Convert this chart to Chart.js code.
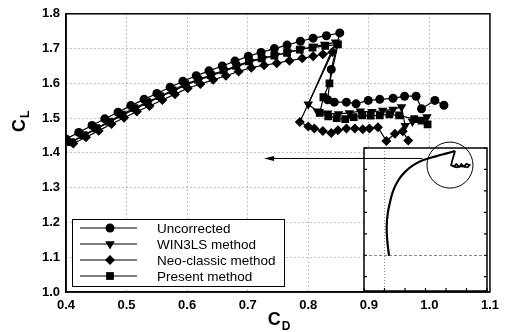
<!DOCTYPE html>
<html>
<head>
<meta charset="utf-8">
<script src="https://cdn.jsdelivr.net/npm/chart.js@4.4.1/dist/chart.umd.min.js"></script>
<style>
  html, body { margin: 0; padding: 0; background: #fff; }
  #wrap { position: relative; width: 505px; height: 332px; }
  #mainChart { position: absolute; left: 0; top: 0; }
  #insetChart { position: absolute; left: 356px; top: 136px; }
</style>
</head>
<body>
<div id="wrap">
  <canvas id="mainChart" width="505" height="332"></canvas>
  <canvas id="insetChart" width="140" height="160"></canvas>
</div>
<script>
// Values (CD, CL)
const uncorrectedCd = [0.400, 0.421, 0.443, 0.464, 0.486, 0.507, 0.529, 0.550, 0.572, 0.593, 0.615,
  0.636, 0.658, 0.679, 0.701, 0.722, 0.744, 0.765, 0.787, 0.808, 0.830, 0.852,
  0.838, 0.832, 0.843, 0.863, 0.879, 0.899, 0.918, 0.940, 0.959, 0.978, 0.987, 1.009, 1.024];
const uncorrectedCl = [1.440, 1.459, 1.479, 1.498, 1.517, 1.536, 1.554, 1.571, 1.589, 1.606, 1.622,
  1.636, 1.650, 1.664, 1.678, 1.689, 1.700, 1.710, 1.721, 1.730, 1.737, 1.745,
  1.640, 1.553, 1.546, 1.546, 1.541, 1.551, 1.554, 1.557, 1.563, 1.563, 1.527, 1.551, 1.537];

const win3lsCd = [0.410, 0.431, 0.452, 0.473, 0.494, 0.515, 0.536, 0.557, 0.578, 0.599, 0.620,
  0.641, 0.662, 0.683, 0.704, 0.725, 0.746, 0.767, 0.788, 0.809, 0.827, 0.845,
  0.800, 0.815, 0.832, 0.850, 0.868, 0.886, 0.905, 0.923, 0.940, 0.954, 0.960, 0.972, 0.996];
const win3lsCl = [1.432, 1.451, 1.471, 1.490, 1.509, 1.527, 1.545, 1.562, 1.579, 1.596, 1.610,
  1.623, 1.636, 1.649, 1.662, 1.671, 1.680, 1.689, 1.698, 1.706, 1.712, 1.718,
  1.540, 1.520, 1.514, 1.512, 1.515, 1.520, 1.518, 1.522, 1.525, 1.532, 1.478, 1.490, 1.503];

const neoCd = [0.412, 0.433, 0.454, 0.475, 0.496, 0.517, 0.538, 0.559, 0.580, 0.601, 0.622,
  0.643, 0.664, 0.685, 0.706, 0.727, 0.748, 0.769, 0.790, 0.808, 0.824, 0.840,
  0.786, 0.800, 0.810, 0.824, 0.838, 0.849, 0.863, 0.877, 0.890, 0.901, 0.915, 0.929, 0.943, 0.956, 0.965];
const neoCl = [1.427, 1.445, 1.464, 1.483, 1.501, 1.519, 1.535, 1.552, 1.569, 1.586, 1.598,
  1.610, 1.622, 1.634, 1.645, 1.652, 1.658, 1.665, 1.672, 1.678, 1.684, 1.690,
  1.489, 1.476, 1.470, 1.463, 1.457, 1.465, 1.470, 1.470, 1.468, 1.470, 1.474, 1.434, 1.455, 1.462, 1.436];

const presentCd = [0.408, 0.429, 0.450, 0.471, 0.492, 0.513, 0.534, 0.555, 0.576, 0.597, 0.618,
  0.639, 0.660, 0.681, 0.702, 0.723, 0.744, 0.765, 0.786, 0.807, 0.828, 0.849,
  0.835, 0.825, 0.819, 0.833, 0.847, 0.861, 0.875, 0.889, 0.903, 0.918, 0.934, 0.950, 0.975, 0.987, 0.997];
const presentCl = [1.431, 1.451, 1.471, 1.490, 1.510, 1.529, 1.546, 1.563, 1.580, 1.598, 1.611,
  1.624, 1.637, 1.650, 1.663, 1.672, 1.680, 1.688, 1.697, 1.703, 1.708, 1.712,
  1.600, 1.560, 1.515, 1.505, 1.500, 1.497, 1.503, 1.508, 1.507, 1.508, 1.511, 1.508, 1.497, 1.493, 1.482];

// inset: whole polar, own axes
const insetCurveCd = [0.244, 0.227, 0.221, 0.231, 0.254, 0.286, 0.335, 0.400, 0.481, 0.579, 0.709, 0.807, 0.888];
const insetCurveCl = [0.293, 0.504, 0.692, 0.880, 1.044, 1.208, 1.349, 1.466, 1.561, 1.631, 1.687, 1.725, 1.758];
const insetTailCd = [0.888, 0.860, 0.850, 0.880, 0.900, 0.930, 0.950, 0.975, 1.000, 1.030, 1.010, 0.960, 0.900, 0.865];
const insetTailCl = [1.758, 1.620, 1.560, 1.540, 1.575, 1.535, 1.575, 1.540, 1.580, 1.560, 1.530, 1.545, 1.530, 1.555];
const circleCd = [0.839];
const circleCl = [1.561];

const ARROW_CL = 1.384;
const ARROW_FROM_CD = 1.0;
const ARROW_TO_CD = 0.727;
const ARROW_INSET_END_CD = 0.57;

const FONT = "'Liberation Sans', Arial, Helvetica, sans-serif";

function toPoints(xs, ys) {
  return xs.map((x, i) => ({ x: x, y: ys[i] }));
}

function makeSeries(label, xs, ys, style, radius, rotation) {
  return {
    label: label,
    data: toPoints(xs, ys),
    showLine: true,
    borderColor: "#000",
    borderWidth: 1.2,
    pointStyle: style,
    pointRadius: radius,
    pointRotation: rotation,
    pointBackgroundColor: "#000",
    pointBorderColor: "#000",
    pointBorderWidth: 0
  };
}

// Frame, axis titles, legend box and arrow
const mainDecor = {
  id: "mainDecor",
  afterDraw(chart) {
    const ctx = chart.ctx;
    const a = chart.chartArea;
    ctx.save();
    ctx.strokeStyle = "#000";
    ctx.lineWidth = 1.5;
    ctx.strokeRect(a.left, a.top, a.right - a.left, a.bottom - a.top);

    // arrow
    const ay = chart.scales.y.getPixelForValue(ARROW_CL);
    const ax1 = chart.scales.x.getPixelForValue(ARROW_FROM_CD);
    const ax0 = chart.scales.x.getPixelForValue(ARROW_TO_CD);
    ctx.lineWidth = 1;
    ctx.beginPath();
    ctx.moveTo(ax1, ay);
    ctx.lineTo(ax0 + 6, ay);
    ctx.stroke();
    ctx.fillStyle = "#000";
    ctx.beginPath();
    ctx.moveTo(ax0, ay);
    ctx.lineTo(ax0 + 10, ay - 2.5);
    ctx.lineTo(ax0 + 10, ay + 2.5);
    ctx.closePath();
    ctx.fill();

    // axis titles
    ctx.fillStyle = "#000";
    ctx.textBaseline = "alphabetic";
    ctx.font = "bold 18px " + FONT;
    const wC = ctx.measureText("C").width;
    ctx.font = "bold 12px " + FONT;
    const wD = ctx.measureText("D").width;
    const cx = (a.left + a.right) / 2 + 1;
    const left = cx - (wC + wD + 1) / 2;
    ctx.font = "bold 18px " + FONT;
    ctx.fillText("C", left, 325);
    ctx.font = "bold 12px " + FONT;
    ctx.fillText("D", left + wC + 1, 330);

    ctx.save();
    ctx.translate(25, 132);
    ctx.rotate(-Math.PI / 2);
    ctx.font = "bold 18px " + FONT;
    ctx.fillText("C", 0, 0);
    ctx.font = "bold 12px " + FONT;
    ctx.fillText("L", wC + 1, 4);
    ctx.restore();

    // legend
    const box = { left: 72, top: 219, right: 284, bottom: 286 };
    ctx.fillStyle = "#fff";
    ctx.fillRect(box.left, box.top, box.right - box.left, box.bottom - box.top);
    ctx.strokeStyle = "#000";
    ctx.lineWidth = 1;
    ctx.strokeRect(box.left + 0.5, box.top + 0.5, box.right - box.left, box.bottom - box.top);
    ctx.font = "13.5px " + FONT;
    ctx.textBaseline = "middle";
    chart.data.datasets.forEach((ds, i) => {
      const y = box.top + 9 + i * 16;
      ctx.strokeStyle = "#000";
      ctx.beginPath();
      ctx.moveTo(box.left + 8, y);
      ctx.lineTo(box.left + 65, y);
      ctx.stroke();
      ctx.fillStyle = "#000";
      Chart.helpers.drawPoint(ctx, {
        pointStyle: ds.pointStyle,
        rotation: ds.pointRotation,
        radius: ds.pointRadius,
        borderWidth: 0
      }, box.left + 38, y);
      ctx.fillText(ds.label, box.left + 85, y + 1);
    });
    ctx.restore();
  }
};

const mainChart = new Chart(document.getElementById("mainChart"), {
  type: "scatter",
  data: {
    datasets: [
      makeSeries("Uncorrected", uncorrectedCd, uncorrectedCl, "circle", 4.5, 0),
      makeSeries("WIN3LS method", win3lsCd, win3lsCl, "triangle", 5.5, 180),
      makeSeries("Neo-classic method", neoCd, neoCl, "rectRot", 5, 0),
      makeSeries("Present method", presentCd, presentCl, "rect", 5.5, 0)
    ]
  },
  options: {
    responsive: false,
    animation: false,
    layout: { autoPadding: false, padding: { left: 0, top: 13, right: 15, bottom: 0 } },
    plugins: { legend: { display: false }, tooltip: { enabled: false } },
    scales: {
      x: {
        type: "linear",
        min: 0.4,
        max: 1.1,
        ticks: {
          stepSize: 0.1,
          maxRotation: 0,
          padding: 6,
          color: "#000",
          font: { family: FONT, size: 13, weight: "bold" },
          callback: v => v.toFixed(1)
        },
        grid: { color: "#8a8a8a", drawTicks: false, lineWidth: 1 },
        border: { display: true, color: "#000", width: 1.5, dash: [1, 3] },
        afterFit: s => { s.height = 40; }
      },
      y: {
        type: "linear",
        min: 1.0,
        max: 1.8,
        ticks: {
          stepSize: 0.1,
          padding: 6,
          color: "#000",
          font: { family: FONT, size: 13, weight: "bold" },
          callback: v => v.toFixed(1)
        },
        grid: { color: "#8a8a8a", drawTicks: false, lineWidth: 1 },
        border: { display: true, color: "#000", width: 1.5, dash: [1, 3] },
        afterFit: s => { s.width = 66; }
      }
    }
  },
  plugins: [mainDecor]
});

const INSET_TOP = 136;

const insetDecor = {
  id: "insetDecor",
  beforeDraw(chart) {
    const a = chart.chartArea;
    chart.ctx.save();
    chart.ctx.fillStyle = "#fff";
    chart.ctx.fillRect(a.left, a.top, a.right - a.left, a.bottom - a.top);
    chart.ctx.restore();
  },
  afterDraw(chart) {
    const ctx = chart.ctx;
    const a = chart.chartArea;
    const xs = chart.scales.x;
    const ys = chart.scales.y;
    ctx.save();
    ctx.strokeStyle = "#000";
    ctx.lineWidth = 1.2;
    // small inward ticks
    ctx.beginPath();
    xs.ticks.forEach(t => {
      const px = xs.getPixelForValue(t.value);
      ctx.moveTo(px, a.bottom);
      ctx.lineTo(px, a.bottom - 3);
    });
    ys.ticks.forEach(t => {
      const py = ys.getPixelForValue(t.value);
      ctx.moveTo(a.left, py);
      ctx.lineTo(a.left + 3, py);
      ctx.moveTo(a.right, py);
      ctx.lineTo(a.right - 3, py);
    });
    ctx.stroke();
    ctx.lineWidth = 1.5;
    ctx.strokeRect(a.left, a.top, a.right - a.left, a.bottom - a.top);
    // continuation of the arrow line
    const ay = mainChart.scales.y.getPixelForValue(ARROW_CL) - INSET_TOP;
    ctx.lineWidth = 1;
    ctx.beginPath();
    ctx.moveTo(0, ay);
    ctx.lineTo(xs.getPixelForValue(ARROW_INSET_END_CD), ay);
    ctx.stroke();
    ctx.restore();
  }
};

new Chart(document.getElementById("insetChart"), {
  type: "scatter",
  data: {
    datasets: [
      {
        data: toPoints(insetCurveCd, insetCurveCl),
        showLine: true,
        borderColor: "#000",
        borderWidth: 2.2,
        pointRadius: 0,
        tension: 0.4
      },
      {
        data: toPoints(insetTailCd, insetTailCl),
        showLine: true,
        borderColor: "#000",
        borderWidth: 1.8,
        pointRadius: 0
      },
      {
        data: toPoints(circleCd, circleCl),
        pointRadius: 23,
        pointBackgroundColor: "rgba(0,0,0,0)",
        pointBorderColor: "#000",
        pointBorderWidth: 1,
        clip: false
      }
    ]
  },
  options: {
    responsive: false,
    animation: false,
    layout: { autoPadding: false, padding: { left: 8, top: 12, right: 9, bottom: 5 } },
    plugins: { legend: { display: false }, tooltip: { enabled: false } },
    scales: {
      x: {
        type: "linear",
        min: 0,
        max: 1.2,
        ticks: { display: false, stepSize: 0.2 },
        grid: {
          drawTicks: false,
          color: c => (c.tick && Math.abs(c.tick.value - 0.2) < 1e-6 ? "#8a8a8a" : "rgba(0,0,0,0)")
        },
        border: { display: false, dash: [1, 2] },
        afterFit: s => { s.height = 0; }
      },
      y: {
        type: "linear",
        min: -0.2,
        max: 1.8,
        ticks: { display: false, stepSize: 0.3 },
        grid: {
          drawTicks: false,
          color: c => (c.tick && Math.abs(c.tick.value - 0.3) < 1e-6 ? "#8a8a8a" : "rgba(0,0,0,0)")
        },
        border: { display: false, dash: [3, 2] },
        afterFit: s => { s.width = 0; }
      }
    }
  },
  plugins: [insetDecor]
});
</script>
</body>
</html>
